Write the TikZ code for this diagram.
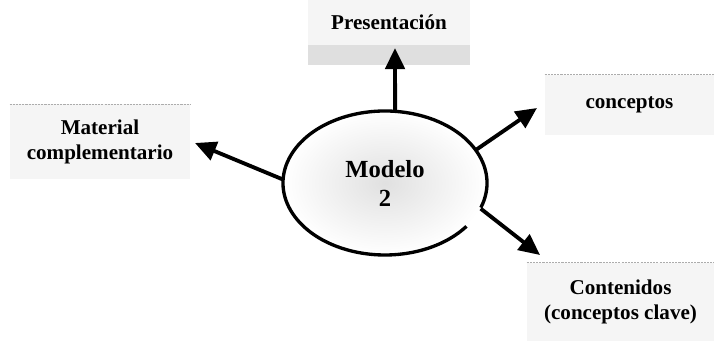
\documentclass[tikz,border=0pt]{standalone}
\usepackage{fontspec}
\setmainfont{Liberation Serif}
\usetikzlibrary{arrows.meta,shapes.geometric}

\begin{document}
\begin{tikzpicture}[
    box/.style={fill=gray!8, inner sep=0pt, align=center, font=\bfseries\fontsize{12}{14}\selectfont},
    topline/.style={draw=gray!65, line width=0.7pt, dash pattern=on 1.2pt off 0.6pt},
    arr/.style={line width=2.2pt, -{Triangle[length=12pt,width=11pt]}},
    rim/.style={line width=1.9pt}
]
            \useasboundingbox (0,0) rectangle (14.28,-6.82);

            \coordinate (ptip) at (7.9,-0.96);
            \coordinate (mtip) at (3.9,-2.86);
            \coordinate (ctip) at (10.74,-2.16);
            \coordinate (ntip) at (10.8,-5.1);

            \node[box, minimum width=3.24cm, minimum height=0.9cm] (pres) at (7.78,-0.45) {Presentación};
            \fill[gray!25] (pres.south west) rectangle ++(3.24,-0.4);

            \node[box, minimum width=3.6cm, minimum height=1.5cm] (mat) at (2.0,-2.84) {Material\\complementario};
            \node[box, minimum width=3.38cm, minimum height=1.2cm] (conc) at (12.59,-2.1) {conceptos};
            \node[box, minimum width=3.74cm, minimum height=1.56cm] (cont) at (12.41,-6.04) {Contenidos\\(conceptos clave)};

            \draw[topline] (mat.north west) -- (mat.north east);
            \draw[topline] (conc.north west) -- (conc.north east);
            \draw[topline] (cont.north west) -- (cont.north east);

            \node[ellipse, minimum width=4.08cm, minimum height=2.88cm, inner sep=0pt,
                  shading=radial, inner color=gray!24, outer color=white,
                  align=center, font=\bfseries\fontsize{14}{16.5}\selectfont] (model) at (7.7,-3.66) {Modelo\\2};
            \draw[rim] ([shift={(-20:2.04cm and 1.44cm)}]model.center)
                arc[start angle=-20, end angle=323, x radius=2.04cm, y radius=1.44cm];

            \draw[arr] (model.82) -- (ptip);
            \draw[arr] (model.178) -- (mtip);
            \draw[arr] (model.20) -- (ctip);
            \draw[arr] (model.-15) -- (ntip);

\end{tikzpicture}
\end{document}
